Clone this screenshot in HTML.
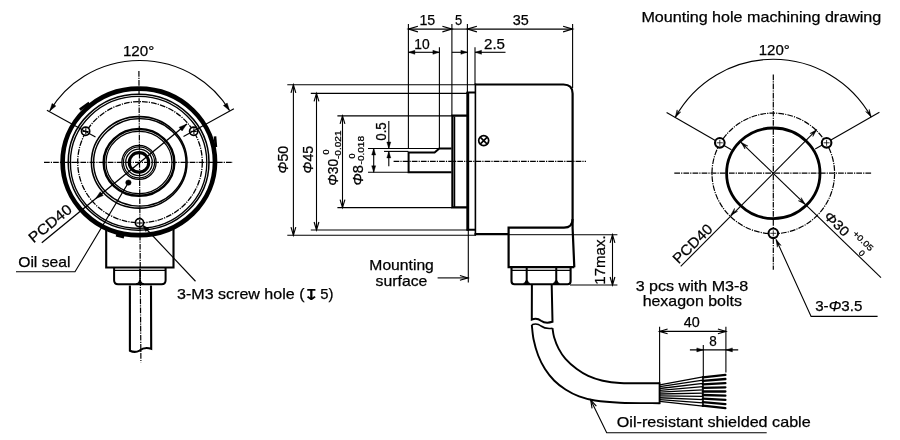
<!DOCTYPE html>
<html><head><meta charset="utf-8"><title>Encoder dimensions</title>
<style>
html,body{margin:0;padding:0;background:#fff;}
body{width:900px;height:440px;overflow:hidden;}
svg{display:block;}
svg text{font-family:"Liberation Sans",sans-serif;fill:#000;stroke:#000;stroke-width:0.25px;}
svg{will-change:transform;}
</style></head><body>
<svg width="900" height="440" viewBox="0 0 900 440" fill="none" stroke="#000" stroke-linecap="butt">
<rect x="0" y="0" width="900" height="440" fill="#fff" stroke="none"/>
<path d="M106.20 215.00 L106.20 267.50 L173.50 267.50 L173.50 215.00" stroke-width="2.1" />
<line x1="114.10" y1="270.30" x2="165.60" y2="270.30" stroke-width="1.3" />
<path d="M114.1 268 L114.1 280.3 Q114.1 284.3 118.1 284.3 L161.6 284.3 Q165.6 284.3 165.6 280.3 L165.6 268" stroke-width="2.0" />
<path d="M140 268.5 L140 284 M136 283.9 Q139.6 283.6 139.8 280 M144 283.9 Q140.4 283.6 140.2 280" stroke-width="1.5" />
<path d="M129.9 285.5 L129.9 350.7 Q135 353.2 139.5 350.6 Q144.5 346.6 151.2 348.8 L151.0 285.5" stroke-width="2.1" />
<ellipse cx="138.80" cy="161.90" rx="76.20" ry="73.30" stroke-width="4.7" fill="#fff"/>
<ellipse cx="138.60" cy="162.20" rx="70.40" ry="68.00" stroke-width="1.5" />
<ellipse cx="138.60" cy="162.40" rx="68.20" ry="66.00" stroke-width="1.35" />
<ellipse cx="140.00" cy="162.20" rx="62.30" ry="60.60" stroke-width="1.3" stroke-dasharray="5.7 1.1 1.2 1.1"/>
<ellipse cx="139.20" cy="162.35" rx="47.80" ry="45.75" stroke-width="1.55" />
<ellipse cx="139.80" cy="162.35" rx="46.20" ry="43.75" stroke-width="1.45" />
<ellipse cx="139.00" cy="162.45" rx="35.30" ry="33.40" stroke-width="2.5" />
<ellipse cx="139.00" cy="162.45" rx="33.00" ry="31.10" stroke-width="1.2" />
<ellipse cx="139.00" cy="162.40" rx="17.10" ry="17.10" stroke-width="1.25" />
<ellipse cx="139.00" cy="162.40" rx="15.60" ry="15.50" stroke-width="1.15" />
<ellipse cx="139.00" cy="162.40" rx="13.30" ry="13.30" stroke-width="1.25" />
<ellipse cx="139.00" cy="162.40" rx="9.75" ry="9.75" stroke-width="3.1" />
<line x1="79.80" y1="109.60" x2="89.20" y2="102.90" stroke-width="2.6" />
<line x1="215.00" y1="136.30" x2="215.90" y2="147.00" stroke-width="2.6" />
<line x1="116.00" y1="235.20" x2="124.00" y2="237.20" stroke-width="2.6" />
<line x1="44.00" y1="162.30" x2="233.00" y2="162.30" stroke-width="1.2" stroke-dasharray="5.7 1.1 1.2 1.1"/>
<line x1="138.90" y1="71.00" x2="140.90" y2="362.60" stroke-width="1.2" stroke-dasharray="5.7 1.1 1.2 1.1"/>
<ellipse cx="193.70" cy="131.20" rx="4.10" ry="4.10" stroke-width="1.7" fill="#fff"/>
<line x1="190.70" y1="131.40" x2="196.70" y2="131.40" stroke-width="1.1" />
<line x1="193.90" y1="128.20" x2="193.90" y2="134.20" stroke-width="1.1" />
<ellipse cx="85.60" cy="131.30" rx="4.10" ry="4.10" stroke-width="1.7" fill="#fff"/>
<line x1="82.60" y1="131.50" x2="88.60" y2="131.50" stroke-width="1.1" />
<line x1="85.80" y1="128.30" x2="85.80" y2="134.30" stroke-width="1.1" />
<ellipse cx="139.50" cy="222.80" rx="4.10" ry="4.10" stroke-width="1.7" fill="#fff"/>
<line x1="136.50" y1="223.00" x2="142.50" y2="223.00" stroke-width="1.1" />
<line x1="139.70" y1="219.80" x2="139.70" y2="225.80" stroke-width="1.1" />
<path d="M49.8 110.9 A104.1 101.4 0 0 1 229.5 110.5" stroke-width="1.15" />
<line x1="46.90" y1="110.20" x2="95.50" y2="137.00" stroke-width="1.1" />
<line x1="233.90" y1="108.75" x2="183.50" y2="136.60" stroke-width="1.1" />
<path d="M52.09 103.40 L49.80 110.90 L55.90 105.97 Z" fill="#000" stroke-width="0.4"/>
<path d="M223.40 105.57 L229.50 110.50 L227.21 103.00 Z" fill="#000" stroke-width="0.4"/>
<text x="138.60" y="56.30" font-size="15" text-anchor="middle" textLength="31.40" lengthAdjust="spacingAndGlyphs" >120°</text>
<line x1="41.80" y1="242.70" x2="186.80" y2="124.10" stroke-width="1.3" />
<path d="M182.09 131.00 L186.80 124.10 L179.07 127.27 Z" fill="#000" stroke-width="0.4"/>
<path d="M100.21 191.80 L95.50 198.70 L103.23 195.53 Z" fill="#000" stroke-width="0.4"/>
<text x="33.50" y="243.50" font-size="14.6" text-anchor="start" textLength="51.00" lengthAdjust="spacingAndGlyphs" transform="rotate(-39.3 33.50 243.50)" >PCD40</text>
<ellipse cx="128.40" cy="182.60" rx="2.70" ry="2.70" stroke-width="0.5" fill="#000"/>
<path d="M128.40 182.60 L75.00 271.80 L16.00 271.80" stroke-width="1.1" />
<text x="18.20" y="266.50" font-size="14.6" text-anchor="start" textLength="52.30" lengthAdjust="spacingAndGlyphs" >Oil seal</text>
<line x1="143.75" y1="226.25" x2="195.50" y2="281.25" stroke-width="1.1" />
<path d="M148.90 228.59 L142.50 225.00 L145.70 231.60 Z" fill="#000" stroke-width="0.4"/>
<text x="177.00" y="299.25" font-size="14.6" text-anchor="start" textLength="127.50" lengthAdjust="spacingAndGlyphs" >3-M3 screw hole (</text>
<text transform="translate(303.2,300) scale(1.3,1)" x="0" y="0" font-size="15" font-weight="bold" style="font-family:'DejaVu Sans',sans-serif;stroke-width:0">↧</text>
<text x="320.20" y="299.25" font-size="14.6" text-anchor="start" textLength="13.20" lengthAdjust="spacingAndGlyphs" >5)</text>
<line x1="408.40" y1="24.00" x2="408.40" y2="148.00" stroke-width="1.1" />
<line x1="451.90" y1="24.00" x2="451.90" y2="116.00" stroke-width="1.1" />
<line x1="467.40" y1="24.00" x2="467.40" y2="93.00" stroke-width="1.1" />
<line x1="572.60" y1="24.00" x2="572.60" y2="88.00" stroke-width="1.1" />
<line x1="439.40" y1="47.20" x2="439.40" y2="148.00" stroke-width="1.1" />
<line x1="475.00" y1="47.20" x2="475.00" y2="85.00" stroke-width="1.1" />
<line x1="408.40" y1="29.10" x2="451.90" y2="29.10" stroke-width="1.1" />
<path d="M417.90 26.30 L408.40 29.10 L417.90 31.90" stroke-width="1.15" stroke-linejoin="miter"/>
<path d="M442.40 31.90 L451.90 29.10 L442.40 26.30" stroke-width="1.15" stroke-linejoin="miter"/>
<line x1="451.90" y1="29.10" x2="467.40" y2="29.10" stroke-width="1.1" />
<line x1="467.40" y1="29.10" x2="572.60" y2="29.10" stroke-width="1.1" />
<path d="M476.90 26.30 L467.40 29.10 L476.90 31.90" stroke-width="1.15" stroke-linejoin="miter"/>
<path d="M563.10 31.90 L572.60 29.10 L563.10 26.30" stroke-width="1.15" stroke-linejoin="miter"/>
<line x1="408.40" y1="52.30" x2="439.40" y2="52.30" stroke-width="1.1" />
<path d="M414.90 50.30 L408.40 52.30 L414.90 54.30 Z" fill="#000" stroke-width="0.4"/>
<path d="M432.90 54.30 L439.40 52.30 L432.90 50.30 Z" fill="#000" stroke-width="0.4"/>
<line x1="451.90" y1="52.30" x2="467.40" y2="52.30" stroke-width="1.1" />
<path d="M460.90 54.30 L467.40 52.30 L460.90 50.30 Z" fill="#000" stroke-width="0.4"/>
<line x1="475.00" y1="52.30" x2="505.50" y2="52.30" stroke-width="1.1" />
<path d="M481.50 50.30 L475.00 52.30 L481.50 54.30 Z" fill="#000" stroke-width="0.4"/>
<text x="427.30" y="24.90" font-size="14.6" text-anchor="middle" textLength="15.80" lengthAdjust="spacingAndGlyphs" >15</text>
<text x="458.70" y="24.70" font-size="14.6" text-anchor="middle" textLength="7.20" lengthAdjust="spacingAndGlyphs" >5</text>
<text x="520.75" y="24.70" font-size="14.6" text-anchor="middle" textLength="16.00" lengthAdjust="spacingAndGlyphs" >35</text>
<text x="422.00" y="48.60" font-size="14.6" text-anchor="middle" textLength="15.40" lengthAdjust="spacingAndGlyphs" >10</text>
<text x="494.50" y="48.60" font-size="14.6" text-anchor="middle" textLength="21.00" lengthAdjust="spacingAndGlyphs" >2.5</text>
<line x1="287.30" y1="84.80" x2="475.00" y2="84.80" stroke-width="1.1" />
<line x1="310.80" y1="93.40" x2="468.00" y2="93.40" stroke-width="1.1" />
<line x1="337.40" y1="115.90" x2="452.00" y2="115.90" stroke-width="1.1" />
<line x1="368.00" y1="148.50" x2="439.00" y2="148.50" stroke-width="1.1" />
<line x1="384.00" y1="151.40" x2="408.40" y2="151.40" stroke-width="1.1" />
<line x1="368.00" y1="172.30" x2="408.40" y2="172.30" stroke-width="1.1" />
<line x1="337.40" y1="207.60" x2="452.00" y2="207.60" stroke-width="1.1" />
<line x1="310.80" y1="230.00" x2="469.00" y2="230.00" stroke-width="1.1" />
<line x1="287.30" y1="235.20" x2="476.00" y2="235.20" stroke-width="1.1" />
<line x1="293.40" y1="84.80" x2="293.40" y2="235.20" stroke-width="1.1" />
<path d="M295.80 92.80 L293.40 84.80 L291.00 92.80" stroke-width="1.15" stroke-linejoin="miter"/>
<path d="M291.00 227.20 L293.40 235.20 L295.80 227.20" stroke-width="1.15" stroke-linejoin="miter"/>
<line x1="316.50" y1="93.40" x2="316.50" y2="230.00" stroke-width="1.1" />
<path d="M318.90 101.40 L316.50 93.40 L314.10 101.40" stroke-width="1.15" stroke-linejoin="miter"/>
<path d="M314.10 222.00 L316.50 230.00 L318.90 222.00" stroke-width="1.15" stroke-linejoin="miter"/>
<line x1="342.50" y1="115.90" x2="342.50" y2="207.60" stroke-width="1.1" />
<path d="M344.90 123.90 L342.50 115.90 L340.10 123.90" stroke-width="1.15" stroke-linejoin="miter"/>
<path d="M340.10 199.60 L342.50 207.60 L344.90 199.60" stroke-width="1.15" stroke-linejoin="miter"/>
<line x1="373.70" y1="148.50" x2="373.70" y2="172.30" stroke-width="1.1" />
<path d="M375.70 155.00 L373.70 148.50 L371.70 155.00 Z" fill="#000" stroke-width="0.4"/>
<path d="M371.70 165.80 L373.70 172.30 L375.70 165.80 Z" fill="#000" stroke-width="0.4"/>
<line x1="388.80" y1="121.00" x2="388.80" y2="148.50" stroke-width="1.1" />
<path d="M386.80 142.00 L388.80 148.50 L390.80 142.00 Z" fill="#000" stroke-width="0.4"/>
<line x1="388.80" y1="151.40" x2="388.80" y2="166.20" stroke-width="1.1" />
<path d="M390.80 157.90 L388.80 151.40 L386.80 157.90 Z" fill="#000" stroke-width="0.4"/>
<text x="288.00" y="173.40" font-size="14.6" text-anchor="start" textLength="27.60" lengthAdjust="spacingAndGlyphs" transform="rotate(-90 288.00 173.40)" ><tspan font-style="italic">Φ</tspan>50</text>
<text x="313.30" y="173.40" font-size="14.6" text-anchor="start" textLength="27.60" lengthAdjust="spacingAndGlyphs" transform="rotate(-90 313.30 173.40)" ><tspan font-style="italic">Φ</tspan>45</text>
<text x="337.60" y="185.70" font-size="14.6" text-anchor="start" textLength="26.70" lengthAdjust="spacingAndGlyphs" transform="rotate(-90 337.60 185.70)" ><tspan font-style="italic">Φ</tspan>30</text>
<text x="340.70" y="159.00" font-size="8.5" text-anchor="start" textLength="28.60" lengthAdjust="spacingAndGlyphs" transform="rotate(-90 340.70 159.00)" >-0.021</text>
<text x="329.40" y="154.50" font-size="8.5" text-anchor="start" textLength="5.00" lengthAdjust="spacingAndGlyphs" transform="rotate(-90 329.40 154.50)" >0</text>
<text x="363.20" y="185.60" font-size="14.6" text-anchor="start" textLength="20.40" lengthAdjust="spacingAndGlyphs" transform="rotate(-90 363.20 185.60)" ><tspan font-style="italic">Φ</tspan>8</text>
<text x="364.10" y="164.40" font-size="8.5" text-anchor="start" textLength="28.40" lengthAdjust="spacingAndGlyphs" transform="rotate(-90 364.10 164.40)" >-0.018</text>
<text x="355.00" y="158.50" font-size="8.5" text-anchor="start" textLength="5.00" lengthAdjust="spacingAndGlyphs" transform="rotate(-90 355.00 158.50)" >0</text>
<text x="386.20" y="140.70" font-size="14.6" text-anchor="start" textLength="18.40" lengthAdjust="spacingAndGlyphs" transform="rotate(-90 386.20 140.70)" >0.5</text>
<path d="M451.6 172.3 L408.6 172.3 L408.6 152.5 L434.6 152.5 L439.3 148.5 L451.6 148.5" stroke-width="2.0" />
<path d="M467.5 115.7 L452.4 115.7 L452.4 207.4 L467.5 207.4" stroke-width="2.2" />
<line x1="454.50" y1="116.50" x2="454.50" y2="207.00" stroke-width="1.5" />
<path d="M475 92.6 L466.5 92.6 M467.8 91.7 L467.8 230.8 M466.5 229.8 L476 229.8" stroke-width="2.0" />
<line x1="467.80" y1="92.00" x2="467.80" y2="230.50" stroke-width="2.8" />
<path d="M475.4 84.5 L563.5 84.5 Q572.6 84.5 572.6 93.5 L572.6 228 L574.3 267.2" stroke-width="2.2" />
<line x1="475.40" y1="83.40" x2="475.40" y2="235.30" stroke-width="1.6" />
<path d="M474.5 234.2 L509 234.2" stroke-width="2.2" />
<line x1="509.00" y1="234.70" x2="574.00" y2="234.70" stroke-width="1.0" />
<path d="M574.3 267.2 L508.6 267.2 L508.6 227.7 L564 227.7 Q572.6 227.7 572.6 219" stroke-width="2.2" />
<line x1="511.50" y1="270.30" x2="570.60" y2="270.30" stroke-width="1.3" />
<path d="M511.5 268 L511.5 281.3 Q511.5 284.3 514.5 284.3 L567.6 284.3 Q570.6 284.3 570.6 281.3 L570.6 268" stroke-width="2.1" />
<path d="M526.7 268 L526.7 284 M523.5 283.9 Q526.1 283.6 526.4000000000001 280.5 M529.9000000000001 283.9 Q527.3000000000001 283.6 527.0 280.5" stroke-width="2.0" />
<path d="M556.25 268 L556.25 284 M553.05 283.9 Q555.65 283.6 555.95 280.5 M559.45 283.9 Q556.85 283.6 556.55 280.5" stroke-width="2.0" />
<line x1="393.60" y1="161.40" x2="586.00" y2="161.40" stroke-width="1.2" stroke-dasharray="5.7 1.1 1.2 1.1"/>
<ellipse cx="483.70" cy="140.60" rx="5.00" ry="5.00" stroke-width="1.7" />
<line x1="480.20" y1="137.10" x2="487.20" y2="144.10" stroke-width="1.6" />
<line x1="480.20" y1="144.10" x2="487.20" y2="137.10" stroke-width="1.6" />
<line x1="468.30" y1="230.00" x2="468.30" y2="282.40" stroke-width="1.1" />
<line x1="437.60" y1="277.90" x2="467.70" y2="277.90" stroke-width="1.1" />
<path d="M459.90 280.30 L467.90 277.90 L459.90 275.50" stroke-width="1.15" stroke-linejoin="miter"/>
<text x="401.60" y="270.10" font-size="14.6" text-anchor="middle" textLength="64.50" lengthAdjust="spacingAndGlyphs" >Mounting</text>
<text x="401.50" y="285.90" font-size="14.6" text-anchor="middle" textLength="51.80" lengthAdjust="spacingAndGlyphs" >surface</text>
<line x1="572.60" y1="234.80" x2="617.40" y2="234.80" stroke-width="1.1" />
<line x1="570.00" y1="285.00" x2="617.40" y2="285.00" stroke-width="1.1" />
<line x1="612.50" y1="234.80" x2="612.50" y2="285.00" stroke-width="1.1" />
<path d="M614.90 242.80 L612.50 234.80 L610.10 242.80" stroke-width="1.15" stroke-linejoin="miter"/>
<path d="M610.10 277.00 L612.50 285.00 L614.90 277.00" stroke-width="1.15" stroke-linejoin="miter"/>
<text x="604.60" y="284.70" font-size="15.3" text-anchor="start" textLength="49.30" lengthAdjust="spacingAndGlyphs" transform="rotate(-90 604.60 284.70)" >17max.</text>
<path d="M531.9 285 L531.8 319.5 Q537 317.5 541 320.7 Q545.5 324 552.5 321.8 L551.7 285" stroke-width="2.0" />
<path d="M531.8 324.8 Q537 322.8 541 326 Q545.5 329.3 552.5 328.2" stroke-width="1.6" />
<path d="M531.80 324.80 C532.10 327.25 532.53 334.38 533.60 339.50 C534.67 344.62 536.30 350.57 538.20 355.50 C540.10 360.43 542.35 364.93 545.00 369.10 C547.65 373.27 550.68 377.10 554.10 380.50 C557.52 383.90 561.33 386.85 565.50 389.50 C569.67 392.15 574.18 394.57 579.10 396.40 C584.02 398.23 588.18 399.45 595.00 400.50 C601.82 401.55 609.23 402.25 620.00 402.70 C630.77 403.15 653.00 403.12 659.60 403.20" stroke-width="1.9" />
<path d="M552.50 328.20 C552.77 329.72 553.08 333.90 554.10 337.30 C555.12 340.70 556.70 345.00 558.60 348.60 C560.50 352.20 562.47 355.48 565.50 358.90 C568.53 362.32 573.02 366.27 576.80 369.10 C580.58 371.93 584.03 374.00 588.20 375.90 C592.37 377.80 596.50 379.32 601.80 380.50 C607.10 381.68 610.37 382.53 620.00 383.00 C629.63 383.47 653.00 383.25 659.60 383.30" stroke-width="1.9" />
<line x1="659.60" y1="382.40" x2="659.60" y2="404.10" stroke-width="1.9" />
<line x1="659.80" y1="384.80" x2="703.00" y2="376.80" stroke-width="1.35" />
<line x1="659.80" y1="386.64" x2="703.00" y2="380.07" stroke-width="1.35" />
<line x1="659.80" y1="388.49" x2="703.00" y2="383.33" stroke-width="1.35" />
<line x1="659.80" y1="390.33" x2="703.00" y2="386.60" stroke-width="1.35" />
<line x1="659.80" y1="392.18" x2="703.00" y2="389.87" stroke-width="1.35" />
<line x1="659.80" y1="394.02" x2="703.00" y2="393.13" stroke-width="1.35" />
<line x1="659.80" y1="395.87" x2="703.00" y2="396.40" stroke-width="1.35" />
<line x1="659.80" y1="397.71" x2="703.00" y2="399.67" stroke-width="1.35" />
<line x1="659.80" y1="399.56" x2="703.00" y2="402.93" stroke-width="1.35" />
<line x1="659.80" y1="401.40" x2="703.00" y2="406.20" stroke-width="1.35" />
<line x1="702.80" y1="377.40" x2="725.40" y2="374.80" stroke-width="2.3" stroke-linecap="round"/>
<line x1="702.80" y1="380.92" x2="725.40" y2="378.98" stroke-width="2.3" stroke-linecap="round"/>
<line x1="702.80" y1="384.45" x2="725.40" y2="383.15" stroke-width="2.3" stroke-linecap="round"/>
<line x1="702.80" y1="387.97" x2="725.40" y2="387.32" stroke-width="2.3" stroke-linecap="round"/>
<line x1="702.80" y1="391.50" x2="725.40" y2="391.50" stroke-width="2.3" stroke-linecap="round"/>
<line x1="702.80" y1="395.02" x2="725.40" y2="395.68" stroke-width="2.3" stroke-linecap="round"/>
<line x1="702.80" y1="398.55" x2="725.40" y2="399.85" stroke-width="2.3" stroke-linecap="round"/>
<line x1="702.80" y1="402.07" x2="725.40" y2="404.03" stroke-width="2.3" stroke-linecap="round"/>
<line x1="702.80" y1="405.60" x2="725.40" y2="408.20" stroke-width="2.3" stroke-linecap="round"/>
<line x1="703.00" y1="376.00" x2="703.00" y2="407.00" stroke-width="1.6" />
<line x1="659.60" y1="326.70" x2="659.60" y2="383.00" stroke-width="1.1" />
<line x1="725.90" y1="326.70" x2="725.90" y2="372.50" stroke-width="1.1" />
<line x1="703.30" y1="345.00" x2="703.30" y2="376.00" stroke-width="1.1" />
<line x1="659.60" y1="331.40" x2="725.90" y2="331.40" stroke-width="1.1" />
<path d="M667.60 329.00 L659.60 331.40 L667.60 333.80" stroke-width="1.15" stroke-linejoin="miter"/>
<path d="M717.90 333.80 L725.90 331.40 L717.90 329.00" stroke-width="1.15" stroke-linejoin="miter"/>
<line x1="689.90" y1="349.90" x2="738.20" y2="349.90" stroke-width="1.1" />
<path d="M696.80 351.90 L703.30 349.90 L696.80 347.90 Z" fill="#000" stroke-width="0.4"/>
<path d="M732.40 347.90 L725.90 349.90 L732.40 351.90 Z" fill="#000" stroke-width="0.4"/>
<text x="691.80" y="327.30" font-size="14.6" text-anchor="middle" textLength="16.00" lengthAdjust="spacingAndGlyphs" >40</text>
<text x="713.10" y="346.40" font-size="14.6" text-anchor="middle" textLength="7.50" lengthAdjust="spacingAndGlyphs" >8</text>
<path d="M590.70 400.10 L606.70 432.70 L766.70 432.70" stroke-width="1.1" />
<path d="M596.37 406.23 L590.70 400.10 L592.06 408.34" stroke-width="1.15" stroke-linejoin="miter"/>
<text x="616.80" y="426.80" font-size="14.5" text-anchor="start" textLength="193.90" lengthAdjust="spacingAndGlyphs" >Oil-resistant shielded cable</text>
<text x="692.00" y="290.80" font-size="14.6" text-anchor="middle" textLength="112.60" lengthAdjust="spacingAndGlyphs" >3 pcs with M3-8</text>
<text x="692.30" y="305.60" font-size="14.6" text-anchor="middle" textLength="99.30" lengthAdjust="spacingAndGlyphs" >hexagon bolts</text>
<text x="641.40" y="22.00" font-size="14.6" text-anchor="start" textLength="239.90" lengthAdjust="spacingAndGlyphs" >Mounting hole machining drawing</text>
<text x="774.30" y="54.90" font-size="15" text-anchor="middle" textLength="31.10" lengthAdjust="spacingAndGlyphs" >120°</text>
<path d="M675.2 117.4 A112.6 114.2 0 0 1 871.2 117.0" stroke-width="1.1" />
<path d="M677.13 109.85 L675.20 117.40 L680.77 111.95 L677.53 113.37 Z" fill="#000" stroke-width="0.5"/>
<path d="M865.63 111.55 L871.20 117.00 L869.27 109.45 L868.88 112.97 Z" fill="#000" stroke-width="0.5"/>
<line x1="666.60" y1="112.60" x2="731.40" y2="149.80" stroke-width="1.1" />
<line x1="879.40" y1="112.30" x2="815.20" y2="149.10" stroke-width="1.1" />
<ellipse cx="773.30" cy="173.30" rx="46.70" ry="45.30" stroke-width="2.8" />
<ellipse cx="773.30" cy="173.40" rx="61.30" ry="60.30" stroke-width="1.2" stroke-dasharray="5.7 1.1 1.2 1.1"/>
<line x1="674.30" y1="173.20" x2="872.00" y2="173.20" stroke-width="1.2" stroke-dasharray="5.7 1.1 1.2 1.1"/>
<line x1="773.30" y1="74.50" x2="773.30" y2="269.80" stroke-width="1.2" stroke-dasharray="5.7 1.1 1.2 1.1"/>
<ellipse cx="719.80" cy="142.80" rx="4.80" ry="4.80" stroke-width="2.1" fill="#fff"/>
<line x1="716.80" y1="142.80" x2="722.80" y2="142.80" stroke-width="0.8" />
<line x1="719.80" y1="139.80" x2="719.80" y2="145.80" stroke-width="0.8" />
<ellipse cx="826.60" cy="142.80" rx="4.80" ry="4.80" stroke-width="2.1" fill="#fff"/>
<line x1="823.60" y1="142.80" x2="829.60" y2="142.80" stroke-width="0.8" />
<line x1="826.60" y1="139.80" x2="826.60" y2="145.80" stroke-width="0.8" />
<ellipse cx="773.30" cy="233.30" rx="4.80" ry="4.80" stroke-width="2.1" fill="#fff"/>
<line x1="770.30" y1="233.30" x2="776.30" y2="233.30" stroke-width="0.8" />
<line x1="773.30" y1="230.30" x2="773.30" y2="236.30" stroke-width="0.8" />
<line x1="680.70" y1="266.40" x2="816.70" y2="129.70" stroke-width="1.1" />
<path d="M812.88 136.49 L816.70 129.70 L809.91 133.52 L813.41 132.99 Z" fill="#000" stroke-width="0.5"/>
<path d="M734.52 208.41 L730.70 215.20 L737.49 211.38 L733.99 211.91 Z" fill="#000" stroke-width="0.5"/>
<text x="678.50" y="264.50" font-size="14.6" text-anchor="start" textLength="49.00" lengthAdjust="spacingAndGlyphs" transform="rotate(-44.5 678.50 264.50)" >PCD40</text>
<line x1="741.00" y1="142.30" x2="881.00" y2="277.60" stroke-width="1.1" />
<path d="M747.85 146.00 L741.00 142.30 L744.94 149.02 L744.34 145.53 Z" fill="#000" stroke-width="0.5"/>
<path d="M798.35 200.70 L805.20 204.40 L801.26 197.68 L801.86 201.17 Z" fill="#000" stroke-width="0.5"/>
<text x="823.30" y="216.90" font-size="13.5" text-anchor="start" textLength="29.00" lengthAdjust="spacingAndGlyphs" transform="rotate(44.5 823.30 216.90)" ><tspan font-style="italic">Φ</tspan>30</text>
<text x="852.20" y="234.20" font-size="8.5" text-anchor="start" textLength="25.00" lengthAdjust="spacingAndGlyphs" transform="rotate(44.5 852.20 234.20)" >+0.05</text>
<text x="858.00" y="253.60" font-size="8.5" text-anchor="start" textLength="5.00" lengthAdjust="spacingAndGlyphs" transform="rotate(44.5 858.00 253.60)" >0</text>
<path d="M776.10 239.50 L811.10 316.40 L877.60 316.40" stroke-width="1.1" />
<path d="M781.12 245.45 L776.10 239.50 L777.30 247.20 L778.03 243.73 Z" fill="#000" stroke-width="0.5"/>
<text x="815.20" y="311.30" font-size="14.6" text-anchor="start" textLength="47.10" lengthAdjust="spacingAndGlyphs" >3-<tspan font-style="italic">Φ</tspan>3.5</text>
</svg>
</body></html>
